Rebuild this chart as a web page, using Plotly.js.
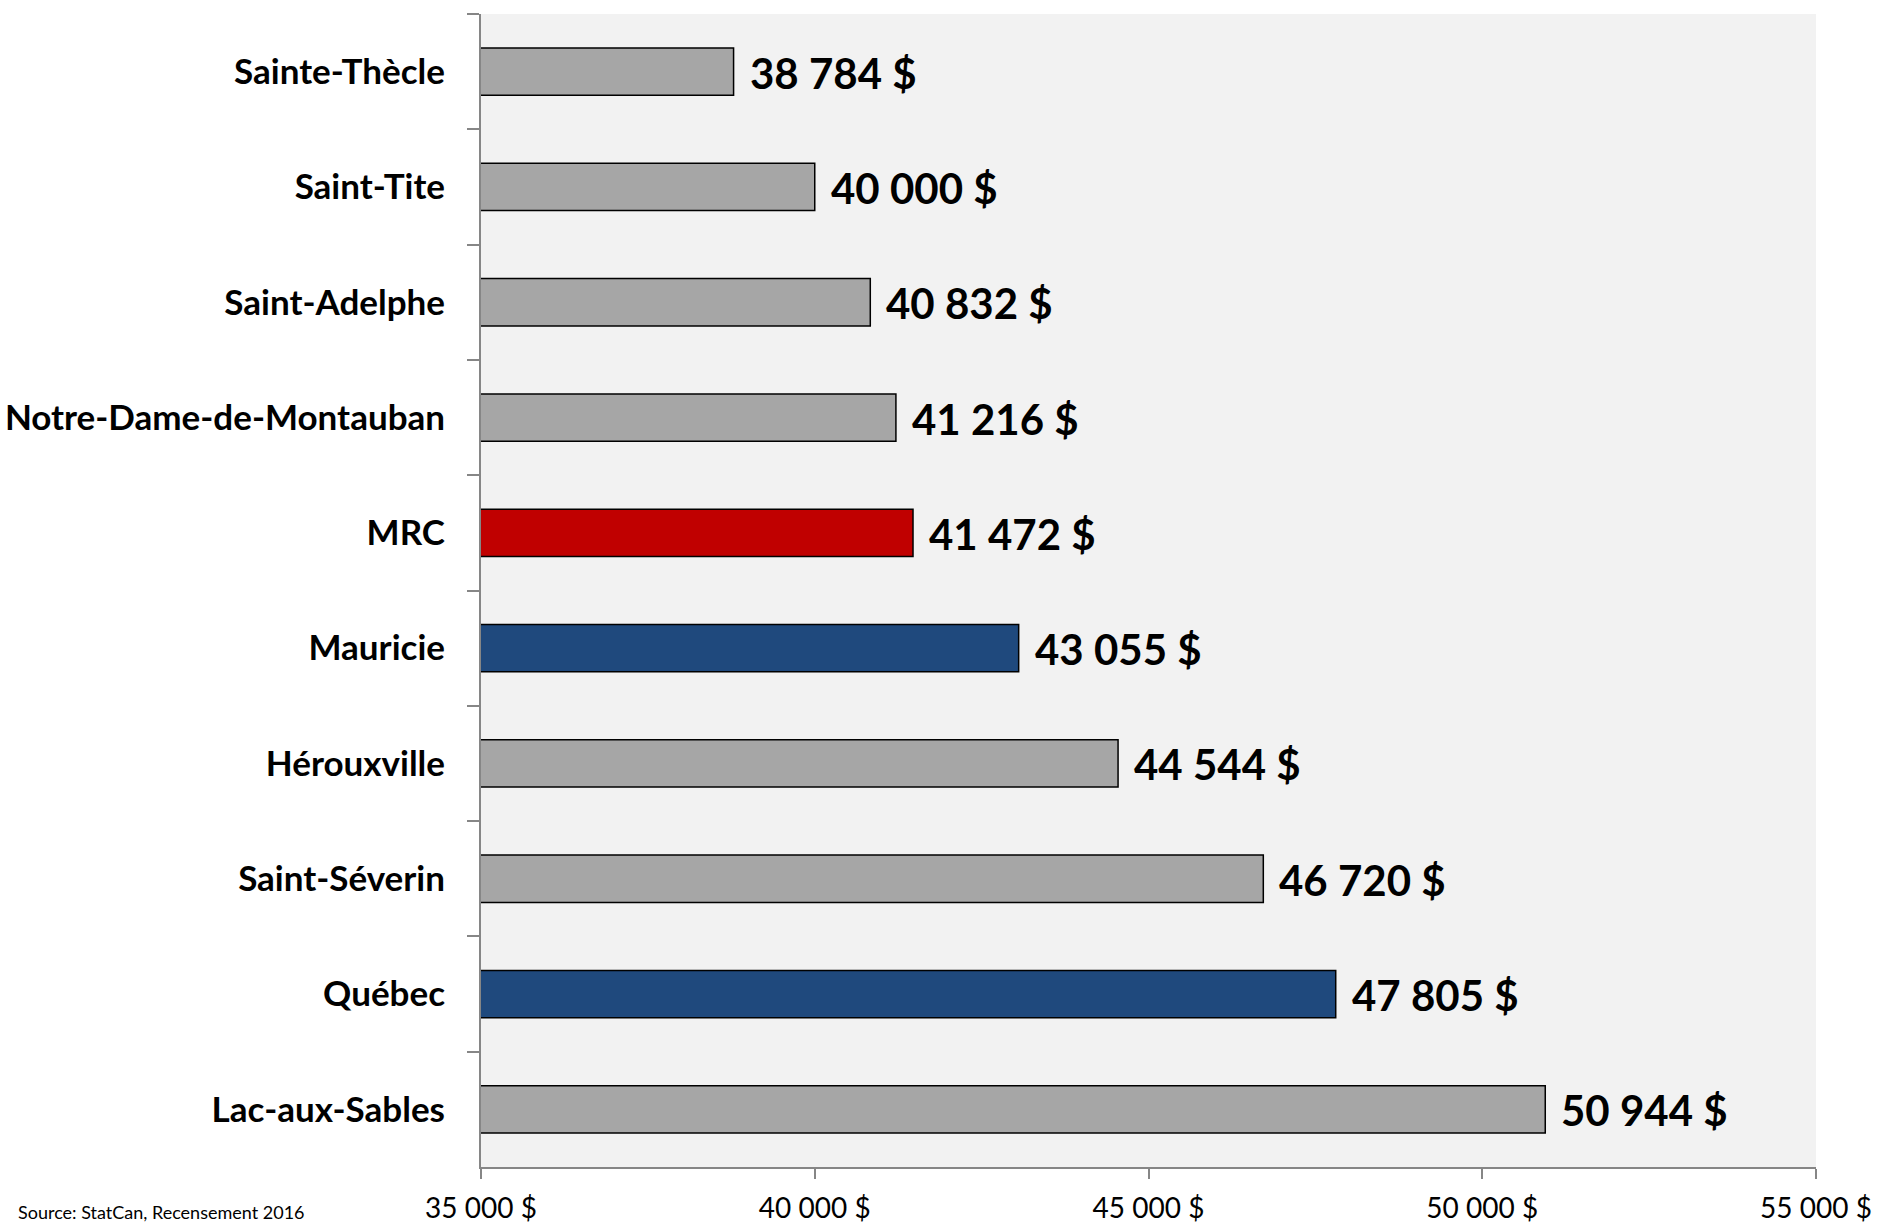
<!DOCTYPE html>
<html>
<head>
<meta charset="utf-8">
<script src="https://cdn.plot.ly/plotly-3.0.1.min.js"></script>
<style>
  html, body { margin: 0; padding: 0; background: #ffffff; }
  #chart { width: 1877px; height: 1223px; }
</style>
</head>
<body>
<div id="chart"></div>
<script>
// Categories listed top to bottom
const categories = [
  "Sainte-Thècle",
  "Saint-Tite",
  "Saint-Adelphe",
  "Notre-Dame-de-Montauban",
  "MRC",
  "Mauricie",
  "Hérouxville",
  "Saint-Séverin",
  "Québec",
  "Lac-aux-Sables"
];
const values = [38784, 40000, 40832, 41216, 41472, 43055, 44544, 46720, 47805, 50944];
const barColors = ["#A6A6A6", "#A6A6A6", "#A6A6A6", "#A6A6A6", "#C00000", "#1F497D", "#A6A6A6", "#A6A6A6", "#1F497D", "#A6A6A6"];
const xTickVals = [35000, 40000, 45000, 50000, 55000];
const xTickText = ["35 000 $", "40 000 $", "45 000 $", "50 000 $", "55 000 $"];
const sourceText = "Source: StatCan, Recensement 2016";

function fmt(v) {
  return String(v).replace(/\B(?=(\d{3})+(?!\d))/g, " ") + " $";
}

const trace = {
  type: "bar",
  orientation: "h",
  y: categories,
  x: values,
  marker: { color: barColors, line: { color: "#000000", width: 1.5 } },
  hoverinfo: "none",
  cliponaxis: true
};

const annotations = categories.map((c, i) => ({
  x: values[i], y: c, xref: "x", yref: "y",
  text: fmt(values[i]),
  showarrow: false, xanchor: "left", yanchor: "middle",
  xshift: 14, yshift: -1,
  font: { family: "Lato, sans-serif", size: 42, color: "#000000", weight: 700 }
}));

annotations.push({
  xref: "paper", yref: "paper",
  x: -481 / 1335, y: -32 / 1153,
  xanchor: "left", yanchor: "top",
  text: sourceText, showarrow: false,
  xshift: 16,
  font: { family: "Lato, sans-serif", size: 18, color: "#000000" }
});

const layout = {
  width: 1877, height: 1223,
  margin: { l: 481, r: 61, t: 14, b: 56, pad: 0 },
  paper_bgcolor: "#ffffff",
  plot_bgcolor: "#F2F2F2",
  bargap: 0.59,
  showlegend: false,
  font: { family: "Lato, sans-serif", color: "#000000" },
  xaxis: {
    range: [35000, 55000],
    tickvals: xTickVals,
    ticktext: xTickText,
    showgrid: false,
    zeroline: false,
    showline: true,
    linecolor: "#868686",
    linewidth: 2,
    ticks: "outside",
    ticklen: 10,
    tickwidth: 2,
    tickcolor: "#868686",
    ticklabelstandoff: 5,
    tickfont: { family: "Lato, sans-serif", size: 28, color: "#000000" },
    fixedrange: true
  },
  yaxis: {
    type: "category",
    autorange: "reversed",
    showgrid: false,
    zeroline: false,
    showline: true,
    linecolor: "#868686",
    linewidth: 2,
    ticks: "outside",
    tickson: "boundaries",
    ticklen: 12,
    tickwidth: 2,
    tickcolor: "#868686",
    ticklabelstandoff: 27,
    tickfont: { family: "Lato, sans-serif", size: 35, color: "#000000", weight: 700 },
    fixedrange: true
  },
  annotations: annotations
};

Plotly.newPlot("chart", [trace], layout, { displayModeBar: false, staticPlot: true });
</script>
</body>
</html>
